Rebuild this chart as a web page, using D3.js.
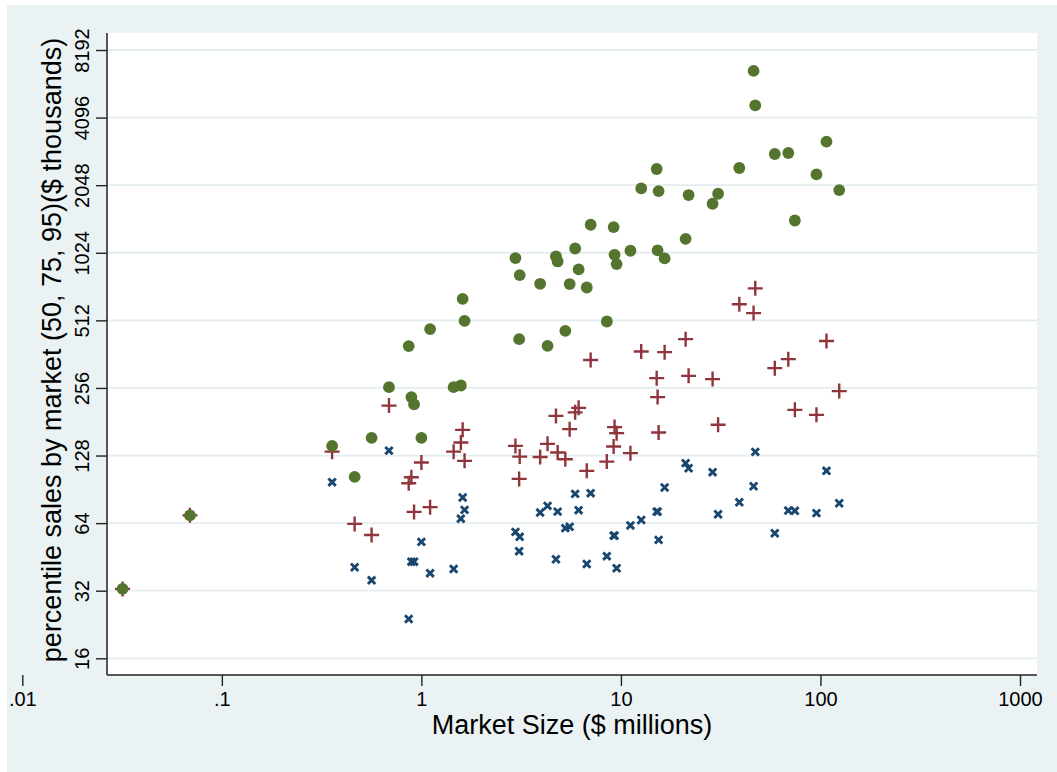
<!DOCTYPE html>
<html>
<head>
<meta charset="utf-8">
<script src="https://cdn.jsdelivr.net/npm/d3@7"></script>
<style>
  body { margin: 0; background: #fff; }
  svg text { font-family: "Liberation Sans", Arial, Helvetica, sans-serif; fill: #000; }
</style>
</head>
<body>
<svg id="chart" width="1057" height="772"></svg>
<script>
// One entry per market: size in $ millions and three sales percentiles ($ thousands)
const marketSize = [0.0318, 0.0692, 0.357, 0.463, 0.563, 0.688, 0.864, 0.891, 0.919, 1.0,
  1.106, 1.451, 1.577, 1.610, 1.646, 2.961, 3.11, 3.09, 3.937, 4.289,
  4.725, 4.818, 5.265, 5.534, 5.896, 6.138, 6.742, 7.051, 8.498, 9.193,
  9.290, 9.517, 11.16, 12.64, 15.11, 15.27, 15.45, 16.56, 21.10, 21.84,
  28.80, 30.69, 39.20, 46.22, 47.13, 59.03, 68.99, 74.42, 95.5, 107.2, 124.2];
const p50 = [32.6, 69.3, 97.4, 40.7, 35.6, 134.6, 23.95, 43.1, 43.1, 52.8,
  38.3, 40.0, 67.0, 83.2, 73.3, 58.5, 55.6, 48.0, 71.3, 76.4,
  44.2, 72.0, 60.8, 61.6, 86.4, 73.1, 42.1, 87.0, 45.6, 56.3,
  56.3, 40.3, 62.5, 66.1, 72.0, 72.0, 53.9, 92.2, 118.4, 112.4,
  107.9, 70.1, 79.3, 93.4, 132.9, 57.7, 72.8, 72.6, 70.9, 109.4, 78.5];
const p75 = [32.6, 69.3, 133.2, 63.5, 56.7, 213.6, 96.4, 102.5, 71.8, 119.1,
  75.4, 133.2, 146.2, 166.6, 121.2, 141.3, 126.6, 100.7, 126, 144.3,
  192.2, 132, 123.3, 167.8, 199.3, 208.7, 109.4, 340.7, 120.3, 140.4,
  171.3, 161, 131.2, 372, 283, 233, 162, 369.6, 422.3, 289.8,
  280.3, 175.4, 604, 551.5, 711, 313.6, 344, 204.5, 194.3, 414, 247.8];
const p95 = [32.6, 69.3, 141.3, 102.8, 153.4, 258.1, 393.2, 233, 216.3, 153.4,
  468, 258.1, 262.5, 638.6, 509.6, 970, 814.7, 422.3, 745, 394,
  985.8, 936.6, 459.8, 743, 1070, 863, 717, 1365, 506, 1332,
  1003, 912, 1045.5, 1981, 2417, 1048.6, 1928, 966, 1181.6, 1851,
  1693, 1876, 2443, 6608, 4646, 2820, 2849, 1426, 2287, 3199, 1948];

const xTicks = [0.01, 0.1, 1, 10, 100, 1000];
const xTickLabels = ['.01', '.1', '1', '10', '100', '1000'];
const yTicks = [16, 32, 64, 128, 256, 512, 1024, 2048, 4096, 8192];

const xTitle = 'Market Size ($ millions)';
const yTitle = 'percentile sales by market (50, 75, 95)($ thousands)';

// Stata s2color palette
const navy = '#1a476f';
const maroon = '#90353b';
const forest = '#55752f';

const svg = d3.select('#chart');
const plot = { left: 107, top: 33, right: 1037, bottom: 675 };

// outer graph region and white plot region
svg.append('rect')
  .attr('x', 7).attr('y', 5)
  .attr('width', 1050).attr('height', 767)
  .attr('fill', '#eaf2f3');
svg.append('rect')
  .attr('x', plot.left).attr('y', plot.top)
  .attr('width', plot.right - plot.left).attr('height', plot.bottom - plot.top)
  .attr('fill', '#fff');

const x = d3.scaleLog().domain([0.01, 1000]).range([22.3, 1020]);
const y = d3.scaleLog().base(2).domain([16, 8192]).range([658.3, 50]);

// horizontal grid lines
svg.append('g')
  .selectAll('line')
  .data(yTicks)
  .enter().append('line')
  .attr('x1', plot.left).attr('x2', plot.right)
  .attr('y1', d => y(d)).attr('y2', d => y(d))
  .attr('stroke', '#e3ecef')
  .attr('stroke-width', 1.8);

// x axis
const xAxis = svg.append('g')
  .attr('transform', `translate(0,${plot.bottom})`)
  .call(d3.axisBottom(x)
    .tickValues(xTicks)
    .tickFormat((d, i) => xTickLabels[i])
    .tickSize(11)
    .tickPadding(6));
xAxis.select('.domain').remove();
xAxis.selectAll('line').attr('stroke', '#222').attr('stroke-width', 1.4);
xAxis.selectAll('text').attr('font-size', 20).attr('fill', '#000');

// y axis, labels turned to read upward
const yAxis = svg.append('g')
  .attr('transform', `translate(${plot.left},0)`)
  .call(d3.axisLeft(y)
    .tickValues(yTicks)
    .tickFormat(d3.format('d'))
    .tickSize(11));
yAxis.select('.domain').remove();
yAxis.selectAll('line').attr('stroke', '#222').attr('stroke-width', 1.4);
yAxis.selectAll('text')
  .attr('x', null).attr('dy', null)
  .attr('text-anchor', 'middle')
  .attr('transform', 'translate(-18,0) rotate(-90)')
  .attr('font-size', 20)
  .attr('fill', '#000');

// axis lines
svg.append('line')
  .attr('x1', plot.left).attr('x2', plot.left)
  .attr('y1', plot.top).attr('y2', plot.bottom)
  .attr('stroke', '#222').attr('stroke-width', 1.5);
svg.append('line')
  .attr('x1', plot.left).attr('x2', plot.right)
  .attr('y1', plot.bottom).attr('y2', plot.bottom)
  .attr('stroke', '#222').attr('stroke-width', 1.5);

const rows = marketSize.map((m, i) => ({ m, p50: p50[i], p75: p75[i], p95: p95[i] }));

// 50th percentile: navy x (small enough to hide under a dot)
const xs = 3.7;
svg.append('g')
  .selectAll('path')
  .data(rows)
  .enter().append('path')
  .attr('transform', d => `translate(${x(d.m)},${y(d.p50)})`)
  .attr('d', `M${-xs},${-xs}L${xs},${xs}M${-xs},${xs}L${xs},${-xs}`)
  .attr('stroke', navy)
  .attr('stroke-width', 2.9)
  .attr('fill', 'none');

// 75th percentile: maroon plus
const ps = 7.5;
svg.append('g')
  .selectAll('path')
  .data(rows)
  .enter().append('path')
  .attr('transform', d => `translate(${x(d.m)},${y(d.p75)})`)
  .attr('d', `M${-ps},0L${ps},0M0,${-ps}L0,${ps}`)
  .attr('stroke', maroon)
  .attr('stroke-width', 2.4)
  .attr('fill', 'none');

// 95th percentile: forest green dots
svg.append('g')
  .selectAll('circle')
  .data(rows)
  .enter().append('circle')
  .attr('cx', d => x(d.m))
  .attr('cy', d => y(d.p95))
  .attr('r', 5.9)
  .attr('fill', forest);

// titles
svg.append('text')
  .attr('x', (plot.left + plot.right) / 2)
  .attr('y', 734)
  .attr('text-anchor', 'middle')
  .attr('font-size', 27)
  .text(xTitle);
svg.append('text')
  .attr('transform', 'translate(61,350) rotate(-90)')
  .attr('text-anchor', 'middle')
  .attr('font-size', 27)
  .text(yTitle);
</script>
</body>
</html>
